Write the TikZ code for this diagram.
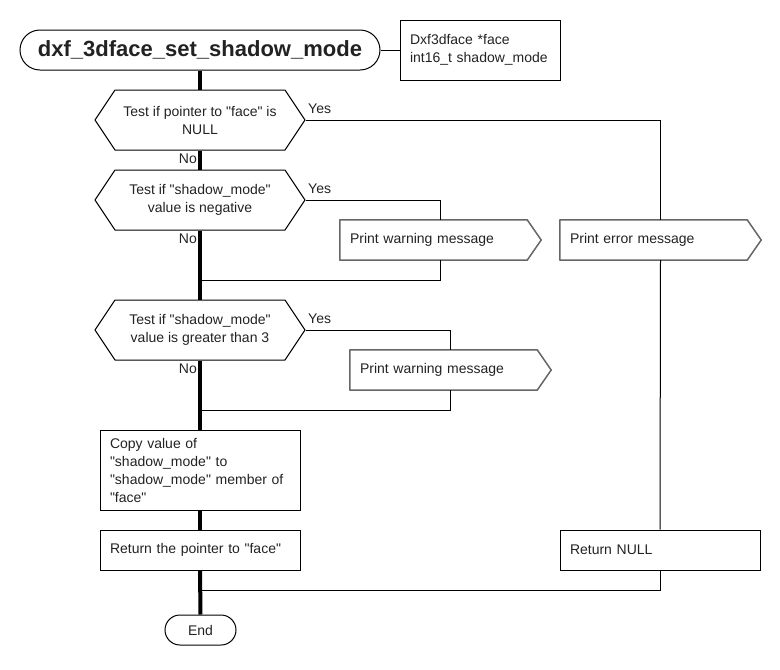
\documentclass[tikz,border=0pt]{standalone}
\usepackage{fontspec}
\setmainfont{Liberation Sans}[Ligatures=TeXOff]
\usetikzlibrary{shapes.symbols}
\definecolor{txt}{HTML}{222222}
\definecolor{gb}{HTML}{666666}
\tikzset{
  x=1pt,y=-1pt,
  every node/.style={font=\fontsize{14}{18}\selectfont, text=txt, inner sep=0pt},
  termbox/.style={draw, line width=1pt, rounded corners=#1, inner sep=0pt},
  decbox/.style={draw, line width=1pt, shape=signal, signal to=east and west, signal pointer angle=112.6, minimum width=210, minimum height=60, align=center},
  printbox/.style={minimum width=201, minimum height=40, text width=181, align=left},
  printline/.style={draw=gb, line width=1.5pt, line join=round},
  procbox/.style={draw, line width=1pt, minimum width=200, minimum height=#1, text width=180, align=left},
  spine/.style={line width=4pt},
  thin/.style={line width=1pt},
  lab/.style={font=\fontsize{14}{14}\selectfont}
}
\begin{document}
\begin{tikzpicture}
\useasboundingbox (0,0) rectangle (780,670);
\node[termbox=20pt, minimum width=360, minimum height=40, font=\bfseries\fontsize{22}{26}\selectfont] (title) at (200,50) {dxf\_3dface\_set\_shadow\_mode};
\node[draw, line width=1pt, minimum width=160, minimum height=60, text width=140, align=left] (params) at (480,50) {Dxf3dface *face\\int16\_t shadow\_mode};
\node[decbox] (d1) at (200,120) {Test if pointer to "face" is\\NULL};
\node[decbox] (d2) at (200,200) {Test if "shadow\_mode"\\value is negative};
\node[decbox] (d3) at (200,330) {Test if "shadow\_mode"\\value is greater than 3};
\node[printbox] (w1) at (440.5,240) {Print warning message};
\node[printbox] (err) at (660.5,240) {Print error message};
\node[printbox] (w2) at (450.5,370) {Print warning message};
\foreach \n in {w1,err,w2}
  \draw[printline] (\n.north west) -- ([xshift=-14pt]\n.north east) -- (\n.east) -- ([xshift=-14pt]\n.south east) -- (\n.south west) -- cycle;
\node[procbox=80] (copy) at (200,470) {Copy value of\\"shadow\_mode" to\\"shadow\_mode" member of\\"face"};
\node[procbox=40] (ret) at (200,550) {Return the pointer to "face"};
\node[procbox=40] (rnull) at (660,550) {Return NULL};
\node[termbox=15pt, minimum width=71, minimum height=30] (end) at (200.5,630) {End};
\coordinate (j1) at (201,280);
\coordinate (j2) at (201,410);
\coordinate (j3) at (201,590);
% spine
\draw[spine] (title.south) -- (d1.north);
\draw[spine] (d1.south) -- (d2.north);
\draw[spine] (d2.south) -- (d3.north);
\draw[spine] (d3.south) -- (copy.north);
\draw[spine] (copy.south) -- (ret.north);
\draw[spine] (ret.south) -- (end.north);
% thin connectors
\draw[thin] (title.east) -- (params.west);
\draw[thin] (d1.east) -| (err.north);
\draw[thin] (err.south) -- (rnull.north);
\draw[thin] (rnull.south) |- (j3);
\draw[thin] (d2.east) -| (w1.north);
\draw[thin] (w1.south) |- (j1);
\draw[thin] (d3.east) -| (w2.north);
\draw[thin] (w2.south) |- (j2);
% labels
\node[lab, anchor=west] (y1) at (308,109) {Yes};
\node[lab, anchor=west] (y2) at (308,189) {Yes};
\node[lab, anchor=west] (y3) at (308,319) {Yes};
\node[lab, anchor=east] (n1) at (197,159) {No};
\node[lab, anchor=east] (n2) at (197,239) {No};
\node[lab, anchor=east] (n3) at (197,369) {No};
\end{tikzpicture}
\end{document}
